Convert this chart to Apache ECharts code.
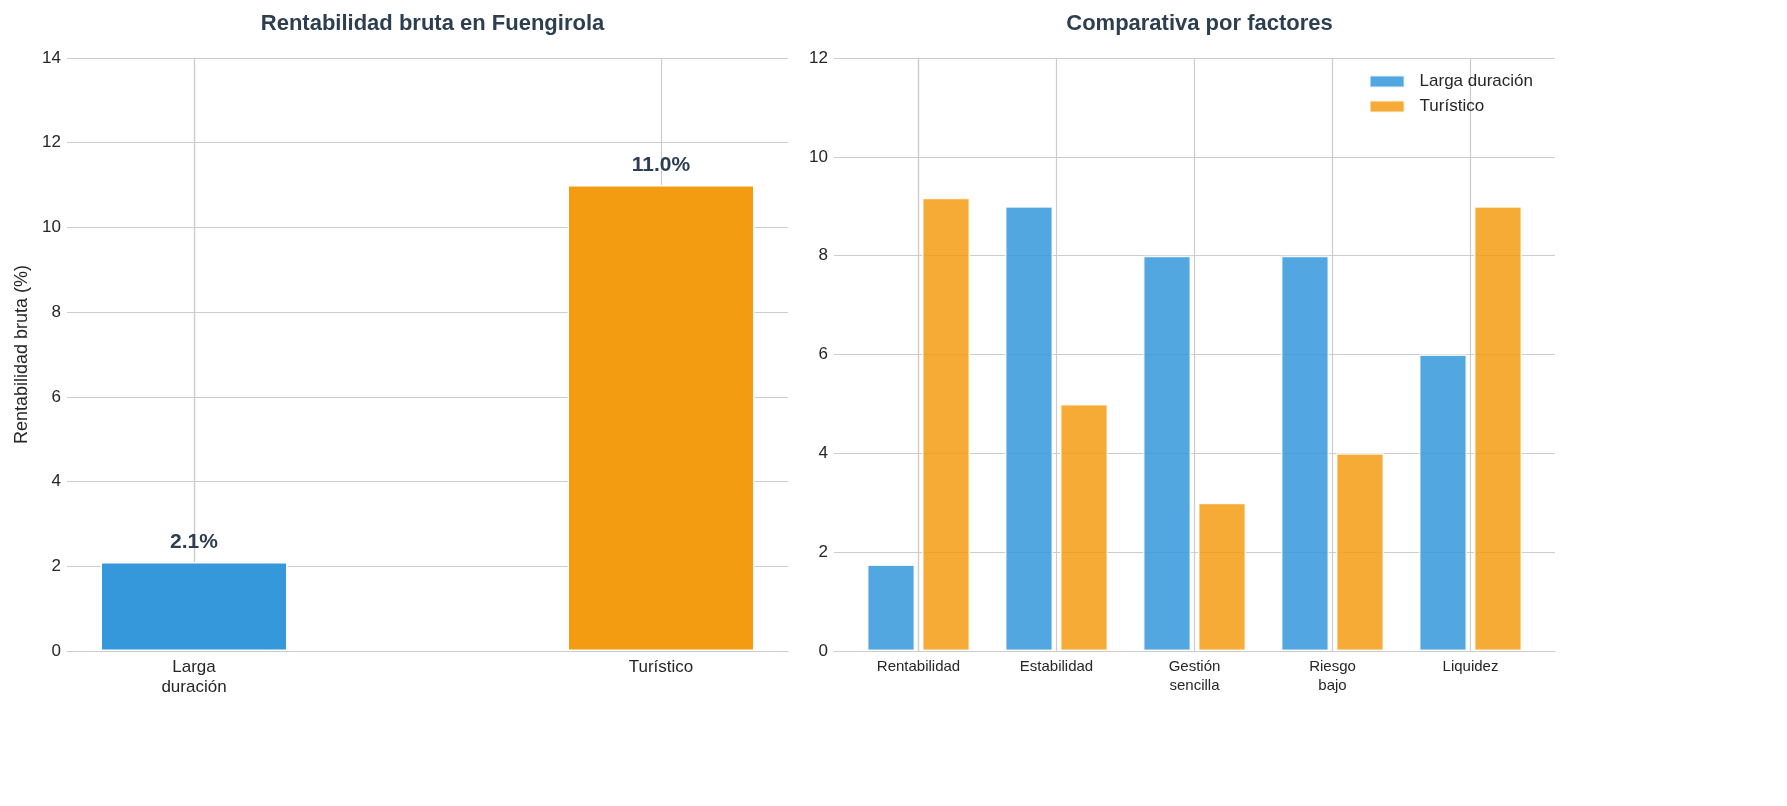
<!DOCTYPE html>
<html><head><meta charset="utf-8">
<script src="https://cdn.jsdelivr.net/npm/echarts@6/dist/echarts.min.js"></script>
<style>html,body{margin:0;padding:0;background:#fff}#c{width:1787px;height:806px}</style>
</head><body><div id="c"></div>
<script>
// ---- data ----
const leftCategories = ['Larga\nduración', 'Turístico'];
const leftValues = [2.1, 11.0];
const leftColors = ['#3498db', '#f39c12'];
const rightCategories = ['Rentabilidad', 'Estabilidad', 'Gestión\nsencilla', 'Riesgo\nbajo', 'Liquidez'];
const seriesNames = ['Larga duración', 'Turístico'];
const largaScores = [1.75, 9, 8, 8, 6];
const turisticoScores = [9.17, 5, 3, 4, 9];
const leftYTicks = [0, 14, 2];   // min, max, interval
const rightYTicks = [0, 12, 2];

const FONT = '"Liberation Sans", Arial, sans-serif';
const GRID_C = '#cccccc';
const TXT = '#262626';

const chart = echarts.init(document.getElementById('c'));
const idx = a => a.map((_, i) => i);

const option = {
  backgroundColor: '#fff',
  textStyle: { fontFamily: FONT },
  animation: false,
  title: [
    { text: 'Rentabilidad bruta en Fuengirola', left: 427.5, top: 8, textAlign: 'center',
      textStyle: { fontSize: 22, fontWeight: 'bold', color: '#2c3e50', fontFamily: FONT } },
    { text: 'Comparativa por factores', left: 1194.5, top: 8, textAlign: 'center',
      textStyle: { fontSize: 22, fontWeight: 'bold', color: '#2c3e50', fontFamily: FONT } }
  ],
  legend: {
    data: seriesNames, orient: 'vertical', right: 249, top: 68,
    itemWidth: 35, itemHeight: 12, itemGap: 8, icon: 'rect', align: 'left',
    textStyle: { fontSize: 17, color: TXT, fontFamily: FONT, padding: [0, 0, 0, 10] }
  },
  grid: [
    { left: 67, right: 999, top: 58, bottom: 155 },
    { left: 834, right: 232, top: 58, bottom: 155 }
  ],
  xAxis: [
    { type: 'value', gridIndex: 0, min: -0.272, max: 1.272,
      axisLine: { show: true, onZero: false, lineStyle: { color: GRID_C, width: 1.2 } },
      axisTick: { show: false, customValues: idx(leftCategories) },
      axisLabel: { customValues: idx(leftCategories), formatter: v => leftCategories[Math.round(v)],
        fontSize: 17, color: TXT, margin: 6, lineHeight: 20, fontFamily: FONT },
      splitLine: { show: true, lineStyle: { color: GRID_C, width: 1.2 } } },
    { type: 'value', gridIndex: 1, min: -0.6125, max: 4.6125,
      axisLine: { show: true, onZero: false, lineStyle: { color: GRID_C, width: 1.2 } },
      axisTick: { show: false, customValues: idx(rightCategories) },
      axisLabel: { customValues: idx(rightCategories), formatter: v => rightCategories[Math.round(v)],
        fontSize: 15, color: TXT, margin: 6, lineHeight: 19, fontFamily: FONT },
      splitLine: { show: true, lineStyle: { color: GRID_C, width: 1.2 } } }
  ],
  yAxis: [
    { type: 'value', gridIndex: 0, min: leftYTicks[0], max: leftYTicks[1], interval: leftYTicks[2],
      name: 'Rentabilidad bruta (%)', nameLocation: 'middle', nameGap: 36,
      nameTextStyle: { fontSize: 18, color: TXT, fontFamily: FONT },
      axisLine: { show: true, lineStyle: { color: GRID_C, width: 1.2 } },
      axisTick: { show: false },
      axisLabel: { fontSize: 17, color: TXT, margin: 6, fontFamily: FONT },
      splitLine: { lineStyle: { color: GRID_C, width: 1.2 } } },
    { type: 'value', gridIndex: 1, min: rightYTicks[0], max: rightYTicks[1], interval: rightYTicks[2],
      axisLine: { show: true, lineStyle: { color: GRID_C, width: 1.2 } },
      axisTick: { show: false },
      axisLabel: { fontSize: 17, color: TXT, margin: 6, fontFamily: FONT },
      splitLine: { lineStyle: { color: GRID_C, width: 1.2 } } }
  ],
  series: [
    { type: 'bar', xAxisIndex: 0, yAxisIndex: 0, barWidth: 187,
      data: leftValues.map((v, i) => ({ value: [i, v], itemStyle: { color: leftColors[i] } })),
      itemStyle: { borderColor: '#fff', borderWidth: 1.5 },
      label: { show: true, position: 'top', distance: 9, formatter: p => p.value[1].toFixed(1) + '%',
        fontSize: 21, fontWeight: 'bold', color: '#2c3e50', fontFamily: FONT } },
    { name: seriesNames[0], type: 'bar', xAxisIndex: 1, yAxisIndex: 1, barWidth: 48, barGap: '14.6%',
      data: largaScores.map((v, i) => [i, v]),
      itemStyle: { color: '#3498db', opacity: 0.85, borderColor: '#fff', borderWidth: 1.5 } },
    { name: seriesNames[1], type: 'bar', xAxisIndex: 1, yAxisIndex: 1, barWidth: 48, barGap: '14.6%',
      data: turisticoScores.map((v, i) => [i, v]),
      itemStyle: { color: '#f39c12', opacity: 0.85, borderColor: '#fff', borderWidth: 1.5 } }
  ]
};
chart.setOption(option);
</script></body></html>
